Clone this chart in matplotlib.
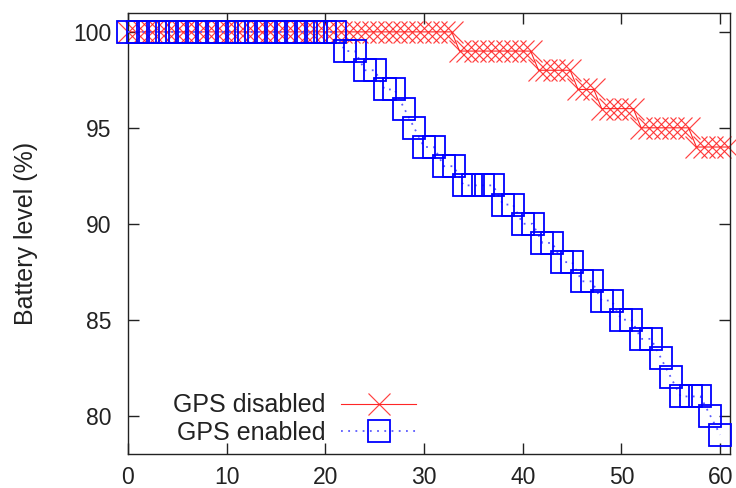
import matplotlib
matplotlib.use("Agg")
import matplotlib.pyplot as plt

plt.rcParams['font.family'] = ['Liberation Sans', 'DejaVu Sans']

# Battery level over time (minutes), GPS disabled: sampled every 0.8 min
t_disabled = [0.0, 0.8, 1.6, 2.4, 3.2, 4.0, 4.8, 5.6, 6.4, 7.2,
              8.0, 8.8, 9.6, 10.4, 11.2, 12.0, 12.8, 13.6, 14.4, 15.2,
              16.0, 16.8, 17.6, 18.4, 19.2, 20.0, 20.8, 21.6, 22.4, 23.2,
              24.0, 24.8, 25.6, 26.4, 27.2, 28.0, 28.8, 29.6, 30.4, 31.2,
              32.0, 32.8, 33.6, 34.4, 35.2, 36.0, 36.8, 37.6, 38.4, 39.2,
              40.0, 40.8, 41.6, 42.4, 43.2, 44.0, 44.8, 45.6, 46.4, 47.2,
              48.0, 48.8, 49.6, 50.4, 51.2, 52.0, 52.8, 53.6, 54.4, 55.2,
              56.0, 56.8, 57.6, 58.4, 59.2, 60.0, 60.8]
level_disabled = [100, 100, 100, 100, 100, 100, 100, 100, 100, 100,
                  100, 100, 100, 100, 100, 100, 100, 100, 100, 100,
                  100, 100, 100, 100, 100, 100, 100, 100, 100, 100,
                  100, 100, 100, 100, 100, 100, 100, 100, 100, 100,
                  100, 100, 99, 99, 99, 99, 99, 99, 99, 99,
                  99, 99, 98, 98, 98, 98, 98, 97, 97, 97,
                  96, 96, 96, 96, 96, 95, 95, 95, 95, 95,
                  95, 95, 94, 94, 94, 94, 94]

# GPS enabled: sampled every minute
t_enabled = [0, 1, 2, 3, 4, 5, 6, 7, 8, 9,
             10, 11, 12, 13, 14, 15, 16, 17, 18, 19,
             20, 21, 22, 23, 24, 25, 26, 27, 28, 29,
             30, 31, 32, 33, 34, 35, 36, 37, 38, 39,
             40, 41, 42, 43, 44, 45, 46, 47, 48, 49,
             50, 51, 52, 53, 54, 55, 56, 57, 58, 59, 60]
level_enabled = [100, 100, 100, 100, 100, 100, 100, 100, 100, 100,
                 100, 100, 100, 100, 100, 100, 100, 100, 100, 100,
                 100, 100, 99, 99, 98, 98, 97, 97, 96, 95,
                 94, 94, 93, 93, 92, 92, 92, 92, 91, 91,
                 90, 90, 89, 89, 88, 88, 87, 87, 86, 86,
                 85, 85, 84, 84, 83, 82, 81, 81, 81, 80, 79]

x_ticks = [0, 10, 20, 30, 40, 50, 60]
y_ticks = [80, 85, 90, 95, 100]

fig = plt.figure(figsize=(7.36, 4.88), dpi=100)
ax = fig.add_axes([128 / 736, 1 - 454 / 488, (730 - 128) / 736, (454 - 12.7) / 488])

ax.plot(t_disabled, level_disabled, color='#ff0000', lw=0.8,
        marker='x', markersize=16.5, markeredgewidth=0.85,
        markeredgecolor='#ff2020', alpha=0.85,
        label='GPS disabled', clip_on=False, zorder=2)
ax.plot(t_enabled, level_enabled, color='#5a5aff', lw=1.3, linestyle=(0, (1, 3)),
        marker='s', markersize=16.0, markeredgewidth=1.3,
        markeredgecolor='#0000ff', markerfacecolor='none',
        label='GPS enabled', clip_on=False, zorder=3)

ax.set_xlim(0, 61)
ax.set_ylim(78, 101)
ax.set_xticks(x_ticks)
ax.set_yticks(y_ticks)
ax.tick_params(direction='in', length=8, width=1, top=True, right=True,
               labelsize=16.5, colors='#222222')
ax.tick_params(axis='x', pad=9)
ax.tick_params(axis='y', pad=12)
for s in ax.spines.values():
    s.set_linewidth(1.0)
    s.set_color('#222222')

ax.set_ylabel('Battery level (%)', fontsize=18, color='#222222')
ax.yaxis.set_label_coords(-0.150, 0.5)

leg = ax.legend(loc='lower right', bbox_to_anchor=(429 / 736, 1 - 457 / 488),
                bbox_transform=fig.transFigure, frameon=False, markerfirst=False,
                fontsize=18, handlelength=3.0, handletextpad=0.65,
                labelspacing=0.13, borderpad=0, numpoints=1)
for txt in leg.get_texts():
    txt.set_color('#222222')

fig.savefig('out.png', dpi=100)
